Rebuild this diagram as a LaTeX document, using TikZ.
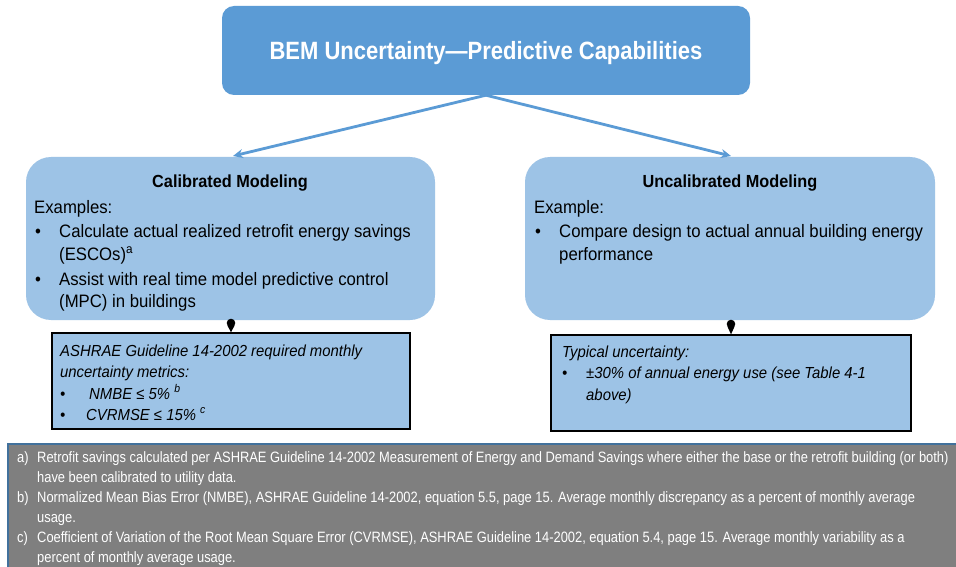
\documentclass[tikz,border=0pt]{standalone}
\usepackage{fontspec}
\setmainfont{Liberation Sans}[FakeStretch=0.93]
\newfontfamily\narrowfont{Liberation Sans}[FakeStretch=0.86]
\newfontfamily\titlefont{Liberation Sans}[FakeStretch=0.88]
\usetikzlibrary{arrows.meta,calc}
\definecolor{topblue}{HTML}{5B9BD5}
\definecolor{lightblue}{HTML}{9DC3E6}
\definecolor{footgray}{HTML}{7F7F7F}
\definecolor{footedge}{HTML}{41719C}
\tikzset{
  topbox/.style={rectangle, rounded corners=12pt, fill=topblue, minimum width=528pt, minimum height=89pt, inner sep=0pt},
  midbox/.style={rectangle, rounded corners=25pt, fill=lightblue, minimum width=410pt, minimum height=163pt, inner sep=0pt},
  subbox/.style={rectangle, fill=lightblue, draw=black, line width=1.3pt, minimum height=96pt, inner sep=0pt},
  txt/.style={anchor=base west, inner sep=0pt, font=\fontsize{18}{22}\selectfont},
  hdr/.style={anchor=base, inner sep=0pt, font=\fontsize{17.5}{20}\selectfont\bfseries},
  itx/.style={anchor=base west, inner sep=0pt, font=\fontsize{16}{19}\selectfont\itshape},
  ftx/.style={anchor=base west, inner sep=0pt, text=white, font=\narrowfont\fontsize{15}{17}\selectfont},
  conn/.style={draw=topblue, line width=2.8pt, -{Stealth[length=10pt,width=9pt]}},
}
\begin{document}
\begin{tikzpicture}[x=1pt,y=1pt]
\useasboundingbox (0,0) rectangle (956,-567);
\fill[white] (0,0) rectangle (956,-567);

% top box
\node[topbox] (top) at (486,-50.5) {};
\node[anchor=base, inner sep=0pt, text=white, font=\titlefont\fontsize{25}{30}\selectfont\bfseries] (toptxt) at (486,-60) {BEM Uncertainty—Predictive Capabilities};

% middle boxes
\node[midbox, minimum width=409pt] (cal) at (230.5,-238.5) {};
\node[midbox] (uncal) at (730,-238.5) {};

\coordinate (calin) at (233,-156);
\coordinate (uncalin) at (731,-156);
\draw[conn] (top.south) -- (calin);
\draw[conn] (top.south) -- (uncalin);

% calibrated text
\node[hdr] (calh) at (230,-187) {Calibrated Modeling};
\node[txt] (cal1) at (34,-213) {Examples:};
\node[txt] (calb1) at (35,-237) {\textbullet};
\node[txt] (cal2) at (59,-237) {Calculate actual realized retrofit energy savings};
\node[txt] (cal3) at (59,-260) {(ESCOs)\textsuperscript{a}};
\node[txt] (calb2) at (35,-285) {\textbullet};
\node[txt] (cal4) at (59,-285) {Assist with real time model predictive control};
\node[txt] (cal5) at (59,-307) {(MPC) in buildings};

% uncalibrated text
\node[hdr] (uncalh) at (730,-187) {Uncalibrated Modeling};
\node[txt] (unc1) at (534,-213) {Example:};
\node[txt] (uncb1) at (535,-237) {\textbullet};
\node[txt] (unc2) at (559,-237) {Compare design to actual annual building energy};
\node[txt] (unc3) at (559,-260) {performance};

% sub boxes
\node[subbox, minimum width=358pt] (calsub) at (231,-381) {};
\node[subbox, minimum width=360pt] (uncalsub) at (731,-383) {};

% pins
\coordinate (calpin) at (231,-323);
\coordinate (uncalpin) at (731,-324);
\fill[black] (calpin) circle (4.3pt);
\fill[black] ($(calpin)+(-3.6,-2.4)$) -- ($(calpin)+(3.6,-2.4)$) -- (calsub.north) -- cycle;
\fill[black] (uncalpin) circle (4.3pt);
\fill[black] ($(uncalpin)+(-3.6,-2.4)$) -- ($(uncalpin)+(3.6,-2.4)$) -- (uncalsub.north) -- cycle;

% sub box text
\node[itx] (s1) at (60,-356) {ASHRAE Guideline 14-2002 required monthly};
\node[itx] (s2) at (60,-377) {uncertainty metrics:};
\node[itx] (sb1) at (60,-399) {\textbullet};
\node[itx] (s3) at (89,-399) {NMBE ≤ 5\% \textsuperscript{b}};
\node[itx] (sb2) at (60,-420) {\textbullet};
\node[itx] (s4) at (86,-420) {CVRMSE ≤ 15\% \textsuperscript{c}};

\node[itx] (u1) at (562,-357) {Typical uncertainty:};
\node[itx] (ub1) at (562,-378) {\textbullet};
\node[itx] (u2) at (586,-378) {±30\% of annual energy use (see Table 4-1};
\node[itx] (u3) at (586,-400) {above)};

% footnote box
\draw[fill=footgray, draw=footedge, line width=1.5pt] (8,-444) rectangle (970,-580);
\node[ftx] (fa) at (17,-462) {a)};
\node[ftx] (fa1) at (37,-462) {Retrofit savings calculated per ASHRAE Guideline 14-2002 Measurement of Energy and Demand Savings where either the base or the retrofit building (or both)};
\node[ftx] (fa2) at (37,-482) {have been calibrated to utility data.};
\node[ftx] (fb) at (17,-502) {b)};
\node[ftx] (fb1) at (37,-502) {Normalized Mean Bias Error (NMBE), ASHRAE Guideline 14-2002, equation 5.5, page 15. Average monthly discrepancy as a percent of monthly average};
\node[ftx] (fb2) at (37,-522) {usage.};
\node[ftx] (fc) at (17,-542) {c)};
\node[ftx] (fc1) at (37,-542) {Coefficient of Variation of the Root Mean Square Error (CVRMSE), ASHRAE Guideline 14-2002, equation 5.4, page 15. Average monthly variability as a};
\node[ftx] (fc2) at (37,-562) {percent of monthly average usage.};
\end{tikzpicture}
\end{document}
